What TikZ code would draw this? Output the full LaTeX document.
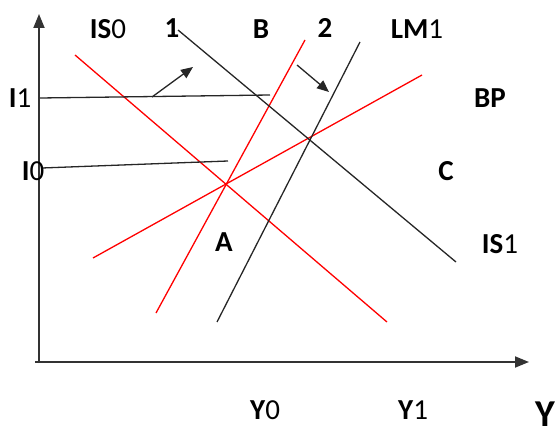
\documentclass[tikz,border=0pt]{standalone}
\usepackage{fontspec}
\setmainfont{Carlito}
\usetikzlibrary{arrows.meta}
\begin{document}
\begin{tikzpicture}[x=1pt,y=-1pt,
  lbl/.style={inner sep=0pt,font=\fontsize{29}{32}\selectfont},
  redline/.style={draw=red,line width=1.3pt},
  blkline/.style={draw=black!85,line width=1.3pt},
  axisline/.style={draw=black!80,line width=1.8pt,-{Triangle[length=14pt,width=11pt]}},
  shiftarrow/.style={draw=black!85,line width=1.3pt,-{Triangle[length=12pt,width=10pt]}}]
\useasboundingbox (0,0) rectangle (558,436);
% axes
\coordinate (o1) at (39,363);
\coordinate (ytip) at (39,14);
\coordinate (o2) at (35,362);
\coordinate (xtip) at (529,362);
\draw[axisline] (o1) -- (ytip);
\draw[axisline] (o2) -- (xtip);
% curves
\coordinate (is0a) at (75,55);  \coordinate (is0b) at (387,322);
\coordinate (lm0a) at (156,313); \coordinate (lm0b) at (305,40);
\coordinate (lm1a) at (217,322); \coordinate (lm1b) at (360,42);
\coordinate (bpa) at (93,258);   \coordinate (bpb) at (422,75);
\coordinate (is1a) at (178,30);  \coordinate (is1b) at (456,262);
\coordinate (i1a) at (40,98);    \coordinate (i1b) at (270,95);
\coordinate (i0a) at (42,168);   \coordinate (i0b) at (228,161);
\draw[redline] (is0a) -- (is0b);
\draw[redline] (lm0a) -- (lm0b);
\draw[redline] (bpa) -- (bpb);
\draw[blkline] (lm1a) -- (lm1b);
\draw[blkline] (is1a) -- (is1b);
\draw[blkline] (i1a) -- (i1b);
\draw[blkline] (i0a) -- (i0b);
% shift arrows
\coordinate (s1a) at (152,97); \coordinate (s1b) at (193,67);
\coordinate (s2a) at (297,65); \coordinate (s2b) at (329,92);
\draw[shiftarrow] (s1a) -- (s1b);
\draw[shiftarrow] (s2a) -- (s2b);
% labels
\node[lbl] (tIS0) at (108,29) {\textbf{IS}0};
\node[lbl] (t1) at (172,28) {\textbf{1}};
\node[lbl] (tB) at (261,29) {\textbf{B}};
\node[lbl] (t2) at (325,28) {\textbf{2}};
\node[lbl] (tLM1) at (417,29) {\textbf{LM}1};
\node[lbl] (tBP) at (490,98) {\textbf{BP}};
\node[lbl] (tC) at (446,171) {\textbf{C}};
\node[lbl] (tIS1) at (500,244) {\textbf{IS}1};
\node[lbl] (tA) at (224,242) {\textbf{A}};
\node[lbl] (tI1) at (20,98) {\textbf{I}1};
\node[lbl] (tI0) at (33,171) {\textbf{I}0};
\node[lbl] (tY0) at (265,410) {\textbf{Y}0};
\node[lbl] (tY1) at (413,410) {\textbf{Y}1};
\node[inner sep=0pt,font=\fontsize{38}{42}\selectfont\bfseries] (tY) at (545,414) {Y};
\end{tikzpicture}
\end{document}
